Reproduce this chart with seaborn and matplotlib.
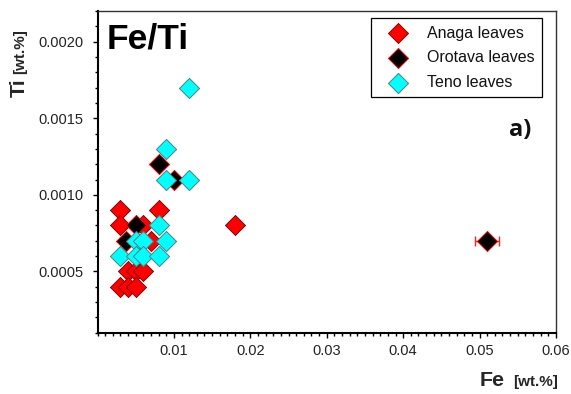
import matplotlib
matplotlib.use("Agg")
import matplotlib.pyplot as plt
from matplotlib.ticker import MultipleLocator, FormatStrFormatter
import seaborn as sns

# Fe and Ti contents (wt.%) of leaves from three sites
anaga_fe = [0.003, 0.008, 0.003, 0.006, 0.007, 0.018, 0.004, 0.005, 0.006, 0.003, 0.004, 0.005]
anaga_ti = [0.0009, 0.0009, 0.0008, 0.0008, 0.0007, 0.0008, 0.0005, 0.0005, 0.0005, 0.0004, 0.0004, 0.0004]

orotava_fe = [0.005, 0.0037, 0.008, 0.010, 0.051]
orotava_ti = [0.0008, 0.0007, 0.0012, 0.0011, 0.0007]
orotava_fe_err = [0.0, 0.0, 0.0, 0.0, 0.0016]

teno_fe = [0.012, 0.009, 0.009, 0.012, 0.008, 0.005, 0.006, 0.009, 0.003, 0.005, 0.006, 0.008]
teno_ti = [0.0017, 0.0013, 0.0011, 0.0011, 0.0008, 0.0007, 0.0007, 0.0007, 0.0006, 0.0006, 0.0006, 0.0006]

x_ticks = [0.01, 0.02, 0.03, 0.04, 0.05, 0.06]
y_ticks = [0.0005, 0.0010, 0.0015, 0.0020]

sns.set_theme(style="white")
plt.rcParams["font.family"] = ["Liberation Sans", "DejaVu Sans"]

fig = plt.figure(figsize=(5.71, 3.94), dpi=100)
ax = fig.add_axes([0.1708, 0.1556, 0.8029, 0.8165])

# error bars only where an uncertainty was reported
err_idx = [i for i, e in enumerate(orotava_fe_err) if e > 0]
ax.errorbar([orotava_fe[i] for i in err_idx], [orotava_ti[i] for i in err_idx],
            xerr=[orotava_fe_err[i] for i in err_idx], fmt="none",
            ecolor="#ff2020", elinewidth=1.0, capsize=3.6, capthick=1.0, zorder=1)

ms = 105
sns.scatterplot(x=anaga_fe, y=anaga_ti, ax=ax, marker="D", s=ms, color="#ff0000",
                edgecolor="#6a0000", linewidth=0.6, label="Anaga leaves", zorder=2)
sns.scatterplot(x=orotava_fe, y=orotava_ti, ax=ax, marker="D", s=ms, color="#000000",
                edgecolor="#ff0000", linewidth=0.7, label="Orotava leaves", zorder=3)
sns.scatterplot(x=teno_fe, y=teno_ti, ax=ax, marker="D", s=ms, color="#00ffff",
                edgecolor="#4f7f7f", linewidth=0.7, label="Teno leaves", zorder=4)

ax.set_xlim(0.0, 0.06)
ax.set_ylim(0.0001, 0.0022)
ax.set_xticks(x_ticks)
ax.set_yticks(y_ticks)
ax.xaxis.set_major_formatter(FormatStrFormatter("%.2f"))
ax.yaxis.set_major_formatter(FormatStrFormatter("%.4f"))
ax.xaxis.set_minor_locator(MultipleLocator(0.001))
ax.yaxis.set_minor_locator(MultipleLocator(0.0001))
ax.set_xlabel("")
ax.set_ylabel("")

ax.tick_params(which="both", direction="out", colors="black", labelcolor="#222222",
               labelsize=10.5, top=False, right=False, bottom=True, left=True, width=1.0)
ax.tick_params(which="major", length=3.6)
ax.tick_params(which="minor", length=2.2)
ax.tick_params(axis="x", which="major", pad=4.5)
ax.tick_params(axis="y", which="major", pad=6.5)

for side in ("left", "bottom"):
    ax.spines[side].set_linewidth(1.5)
    ax.spines[side].set_color("black")
for side in ("top", "right"):
    ax.spines[side].set_linewidth(1.0)
    ax.spines[side].set_color("#333333")

leg = ax.legend(loc="upper right", bbox_to_anchor=(0.9695, 0.977), borderaxespad=0,
                fontsize=11.5, frameon=True, fancybox=False, shadow=False,
                edgecolor="black", framealpha=1, borderpad=0.45, handlelength=2.57,
                handletextpad=0.52, labelspacing=0.6, scatterpoints=1)
leg.get_frame().set_linewidth(0.9)
for t in leg.get_texts():
    t.set_color("#111111")

ax.text(0.020, 0.884, "Fe/Ti", transform=ax.transAxes, fontsize=25.5,
        fontweight="bold", ha="left", va="baseline", color="black")
ax.text(0.947, 0.611, "a)", transform=ax.transAxes, fontsize=17,
        fontweight="bold", ha="right", va="baseline", color="#111111",
        family=["Open Sans", "DejaVu Sans"])

W, H = 571.0, 394.0
# axis titles: element symbol followed by a smaller unit
fig.text(480 / W, 1 - 386 / H, "Fe", fontsize=15.4, fontweight="bold",
         ha="left", va="baseline")
fig.text(513.5 / W, 1 - 386 / H, "[wt.%]", fontsize=11, fontweight="bold",
         ha="left", va="baseline")
fig.text(24.5 / W, 1 - 97 / H, "Ti", fontsize=15.4, fontweight="bold",
         rotation=90, rotation_mode="anchor", ha="left", va="baseline")
fig.text(24.5 / W, 1 - 73.5 / H, "[wt.%]", fontsize=11, fontweight="bold",
         rotation=90, rotation_mode="anchor", ha="left", va="baseline")

fig.savefig("out.png", dpi=100)
